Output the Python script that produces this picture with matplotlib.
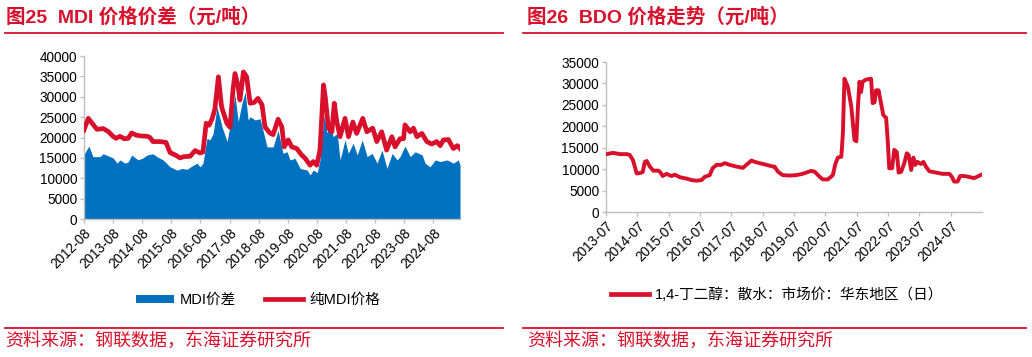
import matplotlib
matplotlib.use("Agg")
import matplotlib.pyplot as plt
from matplotlib.patches import Patch
from matplotlib.lines import Line2D

plt.rcParams['font.family'] = ['Liberation Sans', 'Noto Sans CJK SC', 'DejaVu Sans']

RED = '#d9102b'
BLUE = '#0070c0'
GRID = '#bfbfbf'

# ---------------- Data: MDI ----------------
mdi_price_t = [2012.58, 2012.73, 2012.86, 2013.03, 2013.24, 2013.41, 2013.58, 2013.68, 2013.82, 2013.96,
               2014.10, 2014.22, 2014.37, 2014.51, 2014.75, 2014.85, 2014.95, 2015.19, 2015.40, 2015.54,
               2015.75, 2015.88, 2016.02, 2016.23, 2016.40, 2016.57, 2016.67, 2016.78, 2016.88, 2016.98,
               2017.08, 2017.20, 2017.31, 2017.49, 2017.60, 2017.70, 2017.77, 2017.88, 2017.94, 2018.06,
               2018.17, 2018.29, 2018.43, 2018.56, 2018.70, 2018.80, 2018.97, 2019.08, 2019.25, 2019.38,
               2019.46, 2019.60, 2019.72, 2019.89, 2020.06, 2020.18, 2020.35, 2020.46, 2020.58, 2020.69,
               2020.81, 2020.87, 2020.98, 2021.10, 2021.18, 2021.27, 2021.38, 2021.55, 2021.67, 2021.82,
               2021.95, 2022.16, 2022.30, 2022.50, 2022.64, 2022.81, 2022.98, 2023.16, 2023.27, 2023.44,
               2023.56, 2023.61, 2023.79, 2023.90, 2024.02, 2024.19, 2024.36, 2024.53, 2024.70, 2024.82,
               2024.93, 2025.10, 2025.27, 2025.41, 2025.50]
mdi_price = [21800, 24700, 23500, 22000, 22200, 21500, 20300, 19800, 20300, 19700,
             19800, 21100, 20600, 20400, 20300, 20000, 19000, 19000, 18800, 16300,
             15600, 15000, 15300, 15400, 16800, 16200, 16400, 23500, 23000, 24500,
             27000, 34900, 27500, 23500, 22500, 31600, 35700, 32500, 29200, 36100,
             34900, 28400, 28600, 29600, 28000, 22600, 21100, 20700, 24500, 22600,
             17700, 19400, 17700, 17300, 15700, 14900, 13200, 14100, 13200, 16900,
             32900, 30000, 22300, 21400, 28400, 23800, 20200, 24700, 20200, 23800,
             21000, 24700, 21400, 22300, 19000, 21400, 16900, 20200, 17700, 19700,
             19700, 23100, 21400, 22300, 20200, 21000, 19000, 18400, 19000, 18000,
             19400, 19500, 17300, 18000, 17300]

mdi_spread_t = [2012.58, 2012.62, 2012.75, 2012.89, 2013.13, 2013.24, 2013.48, 2013.58, 2013.72, 2013.82,
                2013.99, 2014.10, 2014.22, 2014.44, 2014.61, 2014.75, 2014.95, 2015.09, 2015.30, 2015.54,
                2015.78, 2015.95, 2016.12, 2016.29, 2016.47, 2016.57, 2016.67, 2016.81, 2016.91, 2017.02,
                2017.15, 2017.33, 2017.50, 2017.67, 2017.77, 2017.88, 2018.01, 2018.12, 2018.22, 2018.29,
                2018.46, 2018.63, 2018.73, 2018.87, 2019.08, 2019.25, 2019.42, 2019.56, 2019.66, 2019.83,
                2020.01, 2020.25, 2020.35, 2020.46, 2020.60, 2020.69, 2020.83, 2020.93, 2021.04, 2021.14,
                2021.28, 2021.38, 2021.55, 2021.66, 2021.83, 2021.97, 2022.14, 2022.31, 2022.48, 2022.65,
                2022.82, 2022.99, 2023.17, 2023.34, 2023.44, 2023.61, 2023.79, 2023.96, 2024.20, 2024.30,
                2024.47, 2024.65, 2024.82, 2025.06, 2025.27, 2025.44, 2025.50]
mdi_spread = [16000, 16300, 17900, 15300, 15300, 16000, 15300, 15000, 13700, 14500,
              13700, 14000, 15700, 14500, 15000, 15700, 16000, 15300, 14500, 12800,
              12000, 12400, 12200, 13000, 13700, 12800, 13700, 19800, 19400, 21000,
              27500, 22500, 19000, 26000, 30400, 23900, 28400, 31200, 24300, 25100,
              24300, 24600, 21800, 17700, 17700, 21800, 16100, 16500, 14500, 14900,
              12400, 12000, 10800, 12000, 11400, 14500, 25500, 21100, 23500, 20200,
              21000, 14500, 19400, 16100, 18600, 15700, 19400, 15300, 16100, 13700,
              16900, 12400, 16100, 14500, 15300, 17900, 15300, 16500, 15700, 13700,
              12800, 14500, 14100, 14500, 13700, 14500, 13300]

mdi_ticks = [2012.583 + k for k in range(13)]
mdi_labels = ['%d-08' % (2012 + k) for k in range(13)]
mdi_yticks = list(range(0, 40001, 5000))

# ---------------- Data: BDO ----------------
bdo_t = [2013.52, 2013.72, 2013.95, 2014.17, 2014.26, 2014.36, 2014.48, 2014.58, 2014.67, 2014.74,
         2014.80, 2014.90, 2015.01, 2015.17, 2015.22, 2015.31, 2015.43, 2015.59, 2015.70, 2015.86,
         2016.07, 2016.23, 2016.39, 2016.55, 2016.65, 2016.81, 2016.90, 2017.03, 2017.18, 2017.29,
         2017.45, 2017.66, 2017.87, 2017.98, 2018.14, 2018.25, 2018.40, 2018.62, 2018.83, 2018.88,
         2018.99, 2019.14, 2019.36, 2019.57, 2019.77, 2020.05, 2020.16, 2020.32, 2020.42, 2020.58,
         2020.74, 2020.82, 2020.90, 2021.01, 2021.06, 2021.11, 2021.22, 2021.33, 2021.43, 2021.49,
         2021.54, 2021.59, 2021.64, 2021.69, 2021.80, 2021.96, 2022.01, 2022.07, 2022.12, 2022.20,
         2022.28, 2022.35, 2022.44, 2022.49, 2022.54, 2022.63, 2022.70, 2022.78, 2022.84, 2022.92,
         2023.02, 2023.10, 2023.16, 2023.24, 2023.31, 2023.37, 2023.44, 2023.55, 2023.63, 2023.71,
         2023.82, 2024.03, 2024.24, 2024.46, 2024.54, 2024.61, 2024.72, 2024.80, 2024.93, 2025.08,
         2025.24, 2025.34, 2025.48]
bdo_price = [13500, 13800, 13500, 13500, 13300, 12100, 9000, 9100, 9300, 11700,
             11900, 10600, 9650, 9650, 9400, 8400, 8900, 8400, 8700, 8100,
             7800, 7450, 7300, 7450, 8200, 8600, 10200, 11000, 11000, 11400,
             11000, 10600, 10300, 11000, 12000, 11700, 11400, 11000, 10600, 10600,
             9400, 8600, 8500, 8600, 8900, 9600, 9400, 8200, 7600, 7600,
             8600, 11200, 12700, 12900, 18300, 31100, 29200, 24500, 16800, 16500,
             24500, 30400, 28000, 30400, 30900, 31100, 25400, 25600, 28400, 28400,
             25300, 22600, 22000, 16800, 10200, 10200, 14500, 14000, 9200, 9400,
             11400, 13700, 13300, 9800, 12700, 11000, 11700, 11200, 11700, 10600,
             9500, 9200, 8900, 8900, 8200, 7100, 7100, 8400, 8400, 8200,
             7900, 8200, 8700]

bdo_ticks = [2013.5 + k for k in range(12)]
bdo_labels = ['%d-07' % (2013 + k) for k in range(12)]
bdo_yticks = list(range(0, 35001, 5000))

# ---------------- Figure ----------------
W, H = 1032, 357
fig = plt.figure(figsize=(W / 100, H / 100), dpi=100)


def fx(px):
    return px / W


def fy(py):
    return 1 - py / H


def style_axes(ax):
    for s in ['top', 'right']:
        ax.spines[s].set_visible(False)
    for s in ['left', 'bottom']:
        ax.spines[s].set_color(GRID)
        ax.spines[s].set_linewidth(1.0)
    ax.tick_params(axis='both', colors=GRID, length=3, width=1.0, labelcolor='#000000', labelsize=9.8, pad=2)
    ax.set_facecolor('white')


# Left chart
ax1 = fig.add_axes([fx(84), fy(219), fx(460) - fx(84), fy(56) - fy(219)])
ax1.fill_between(mdi_spread_t, mdi_spread, 0, color=BLUE, linewidth=0, zorder=2)
ax1.plot(mdi_price_t, mdi_price, color=RED, lw=3.4, solid_joinstyle='round', zorder=3)
ax1.set_xlim(2012.583, 2025.5)
ax1.set_ylim(0, 40000)
ax1.set_yticks(mdi_yticks)
ax1.set_xticks(mdi_ticks)
ax1.set_xticklabels(mdi_labels, rotation=45, ha='right', rotation_mode='anchor')
style_axes(ax1)

# Right chart
ax2 = fig.add_axes([fx(606), fy(212), fx(982) - fx(606), fy(62) - fy(212)])
ax2.plot(bdo_t, bdo_price, color=RED, lw=2.8, solid_joinstyle='round', zorder=3)
ax2.set_xlim(2013.5, 2025.5)
ax2.set_ylim(0, 35000)
ax2.set_yticks(bdo_yticks)
ax2.set_xticks(bdo_ticks)
ax2.set_xticklabels(bdo_labels, rotation=45, ha='right', rotation_mode='anchor')
style_axes(ax2)

# Titles
fig.text(fx(6), fy(17), '图25  MDI 价格价差（元/吨）', color=RED, fontsize=14, fontweight='bold',
         ha='left', va='center')
fig.text(fx(527), fy(17), '图26  BDO 价格走势（元/吨）', color=RED, fontsize=14, fontweight='bold',
         ha='left', va='center')

# Separator lines
for (x0, x1) in [(5, 503), (523, 1026)]:
    fig.add_artist(Line2D([fx(x0), fx(x1)], [fy(32.5), fy(32.5)], color=RED, lw=1.3))
    fig.add_artist(Line2D([fx(x0), fx(x1)], [fy(327.5), fy(327.5)], color=RED, lw=1.3))

# Source texts
fig.text(fx(5), fy(341), '资料来源：钢联数据，东海证券研究所', color=RED, fontsize=13, ha='left', va='center')
fig.text(fx(527), fy(341), '资料来源：钢联数据，东海证券研究所', color=RED, fontsize=13, ha='left', va='center')

# Legends
h1 = [Patch(facecolor=BLUE, edgecolor='none'), Line2D([], [], color=RED, lw=3.4)]
fig.legend(h1, ['MDI价差', '纯MDI价格'], loc='center', bbox_to_anchor=(fx(258), fy(300)), ncol=2,
           frameon=False, fontsize=10.5, handlelength=2.6, handleheight=0.45, columnspacing=2.0,
           handletextpad=0.4)
h2 = [Line2D([], [], color=RED, lw=3.4)]
fig.legend(h2, ['1,4-丁二醇：散水：市场价：华东地区（日）'], loc='center', bbox_to_anchor=(fx(777), fy(295)),
           frameon=False, fontsize=10.5, handlelength=2.6, handletextpad=0.4)

fig.savefig('out.png', dpi=100, facecolor='white')
